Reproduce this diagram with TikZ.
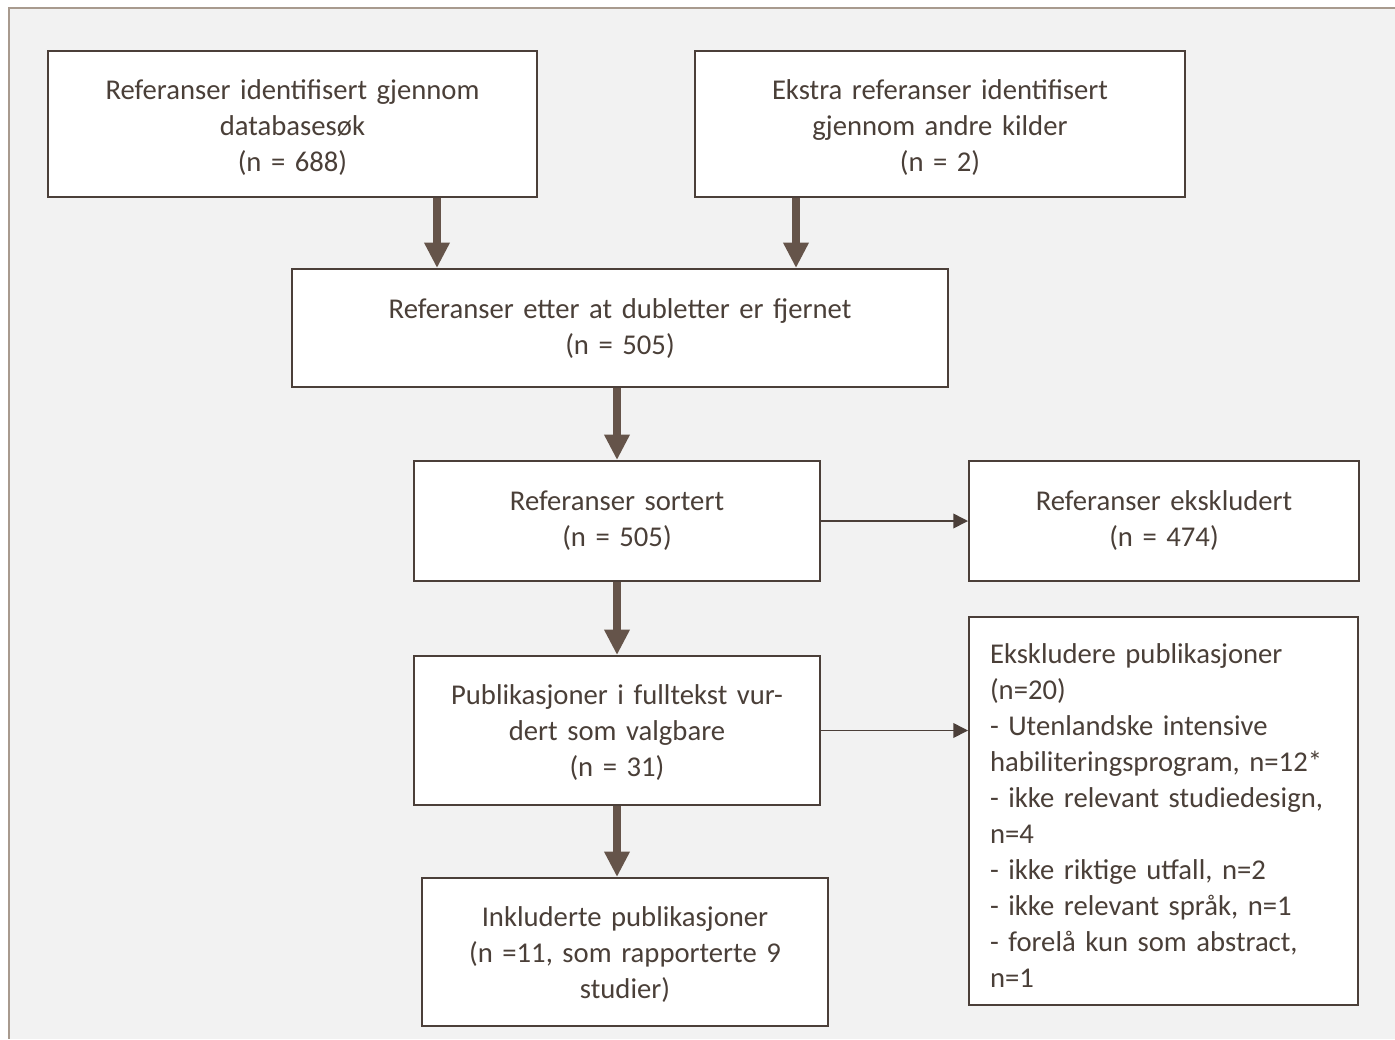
\documentclass[tikz,border=0pt]{standalone}
\usepackage{fontspec}
\setmainfont{Carlito}
\usetikzlibrary{arrows.meta}
\definecolor{txt}{HTML}{4A3F38}
\definecolor{bord}{HTML}{4B3F39}
\definecolor{arr}{HTML}{65544A}
\definecolor{bg}{HTML}{F2F2F2}
\definecolor{framec}{HTML}{A89A8E}
\begin{document}
\begin{tikzpicture}[x=0.75pt,y=-0.75pt,
  box/.style={draw=bord, line width=1.5pt, fill=white, inner sep=0pt},
  lbl/.style={text=txt, font=\fontsize{21.5}{27}\selectfont, align=center, inner sep=0pt},
  thickarrow/.style={draw=arr, line width=6pt, -{Triangle[width=18pt,length=19pt]}},
  thinarrow/.style={draw=bord, line width=1.2pt, -{Triangle[width=11pt,length=11pt]}}]
\useasboundingbox (0,0) rectangle (1395,1039);
\fill[bg] (9,8) rectangle (1395,1039);
\draw[framec, line width=2pt] (1395,8) -- (9,8) -- (9,1039);

\node[box, minimum width={489*0.75pt}, minimum height={146*0.75pt}] (b1) at (292.5,124) {};
\node[lbl, text width={470*0.75pt}] (t1) at ([yshift=-3pt]b1.center)
  {Referanser identifisert gjennom\\databasesøk\\(n = 688)};
\node[box, minimum width={490*0.75pt}, minimum height={146*0.75pt}] (b2) at (940,124) {};
\node[lbl, text width={470*0.75pt}] (t2) at ([yshift=-3pt]b2.center)
  {Ekstra referanser identifisert\\gjennom andre kilder\\(n = 2)};
\node[box, minimum width={656*0.75pt}, minimum height={118*0.75pt}] (b3) at (620,328) {};
\node[lbl, text width={630*0.75pt}] (t3) at ([yshift=-0.75pt]b3.center)
  {Referanser etter at dubletter er fjernet\\(n = 505)};
\node[box, minimum width={406*0.75pt}, minimum height={120*0.75pt}] (b4) at (617,521) {};
\node[lbl, text width={390*0.75pt}] (t4) at (b4.center)
  {Referanser sortert\\(n = 505)};
\node[box, minimum width={390*0.75pt}, minimum height={120*0.75pt}] (b5) at (1164,521) {};
\node[lbl, text width={375*0.75pt}] (t5) at (b5.center)
  {Referanser ekskludert\\(n = 474)};
\node[box, minimum width={406*0.75pt}, minimum height={149*0.75pt}] (b6) at (617,730.5) {};
\node[lbl, text width={390*0.75pt}] (t6) at ([yshift=-1.5pt]b6.center)
  {Publikasjoner i fulltekst vur-\\dert som valgbare\\(n = 31)};
\node[box, minimum width={406*0.75pt}, minimum height={148*0.75pt}] (b7) at (625,952) {};
\node[lbl, text width={390*0.75pt}] (t7) at ([yshift=-2.25pt]b7.center)
  {Inkluderte publikasjoner\\(n =11, som rapporterte 9\\studier)};
\node[box, minimum width={389*0.75pt}, minimum height={388*0.75pt}] (b8) at (1163.5,811) {};
\node[lbl, align=left, text width={347*0.75pt}] (t8) at ([yshift=-3.75pt]b8.center)
  {Ekskludere publikasjoner\\(n=20)\\- Utenlandske intensive\\habiliteringsprogram, n=12*\\- ikke relevant studiedesign,\\n=4\\- ikke riktige utfall, n=2\\- ikke relevant språk, n=1\\- forelå kun som abstract,\\n=1};

\draw[thickarrow] (437,0 |- b1.south) -- (437,0 |- b3.north);
\draw[thickarrow] (796,0 |- b2.south) -- (796,0 |- b3.north);
\draw[thickarrow] (617,0 |- b3.south) -- (617,0 |- b4.north);
\draw[thickarrow] (b4.south) -- (b6.north);
\draw[thickarrow] (617,0 |- b6.south) -- (617,0 |- b7.north);
\draw[thinarrow] (b4.east) -- (b5.west);
\draw[thinarrow] (b6.east) -- (b6.east -| b8.west);
\end{tikzpicture}
\end{document}
